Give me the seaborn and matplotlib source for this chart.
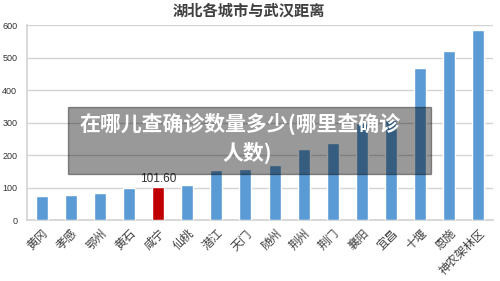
import matplotlib
matplotlib.use("Agg")
import matplotlib.pyplot as plt
import seaborn as sns
import pandas as pd

cities = ["黄冈", "孝感", "鄂州", "黄石", "咸宁", "仙桃", "潜江", "天门",
          "随州", "荆州", "荆门", "襄阳", "宜昌", "十堰", "恩施", "神农架林区"]
distance = [74, 76, 84, 98, 101.6, 108, 154, 156,
            170, 217, 236, 300, 308, 467, 521, 585]
highlight = "咸宁"
yticks = [0, 100, 200, 300, 400, 500, 600]

title = "湖北各城市与武汉距离"
overlay_line1 = "在哪儿查确诊数量多少(哪里查确诊"
overlay_line2 = "人数)"

sns.set_theme(style="white")
plt.rcParams["font.family"] = ["Noto Sans CJK SC", "DejaVu Sans"]

df = pd.DataFrame({"city": cities, "km": distance})
colors = ["#C00000" if c == highlight else "#5B9BD5" for c in cities]

fig = plt.figure(figsize=(5, 2.81), dpi=100)
ax = fig.add_axes([0.054, 0.217, 0.932, 0.694])

sns.barplot(data=df, x="city", y="km", hue="city", palette=colors,
            legend=False, width=0.41, saturation=1, ax=ax, zorder=3)

ax.set_ylim(0, 600)
ax.set_xlim(-0.5, len(cities) - 0.5)
ax.set_yticks(yticks)
ax.yaxis.grid(True, color="#d4d4d4", linewidth=1, zorder=0)
ax.set_xlabel("")
ax.set_ylabel("")
for side in ["top", "right"]:
    ax.spines[side].set_visible(False)
ax.spines["left"].set_color("#d4d4d4")
ax.spines["bottom"].set_color("#d4d4d4")
ax.tick_params(axis="y", length=0, pad=7, labelsize=6.5, labelcolor="#333333")
ax.tick_params(axis="x", length=0, pad=5, labelsize=8.5, labelcolor="#404040")
plt.setp(ax.get_yticklabels(), family=["Liberation Sans", "DejaVu Sans"])
plt.setp(ax.get_xticklabels(), rotation=45, ha="right", rotation_mode="anchor")

i = cities.index(highlight)
ax.text(i, distance[i] + 6, f"{distance[i]:.2f}", ha="center", va="bottom",
        fontsize=8.5, color="#333333", family=["Liberation Sans", "DejaVu Sans"])

fig.text(0.498, 0.962, title, ha="center", va="center", fontsize=11,
         fontweight="bold", color="#404040")

# grey overlay banner with caption
box = plt.Rectangle((0.136, 1 - 174 / 281), 0.726, 67 / 281,
                    transform=fig.transFigure, color="black", alpha=0.4,
                    zorder=10)
fig.add_artist(box)
fig.text(0.48, 1 - 124 / 281, overlay_line1, ha="center", va="center",
         fontsize=15, fontweight="bold", color="white", zorder=11)
fig.text(0.494, 1 - 153 / 281, overlay_line2, ha="center", va="center",
         fontsize=15, fontweight="bold", color="white", zorder=11)

fig.savefig("out.png", dpi=100)
